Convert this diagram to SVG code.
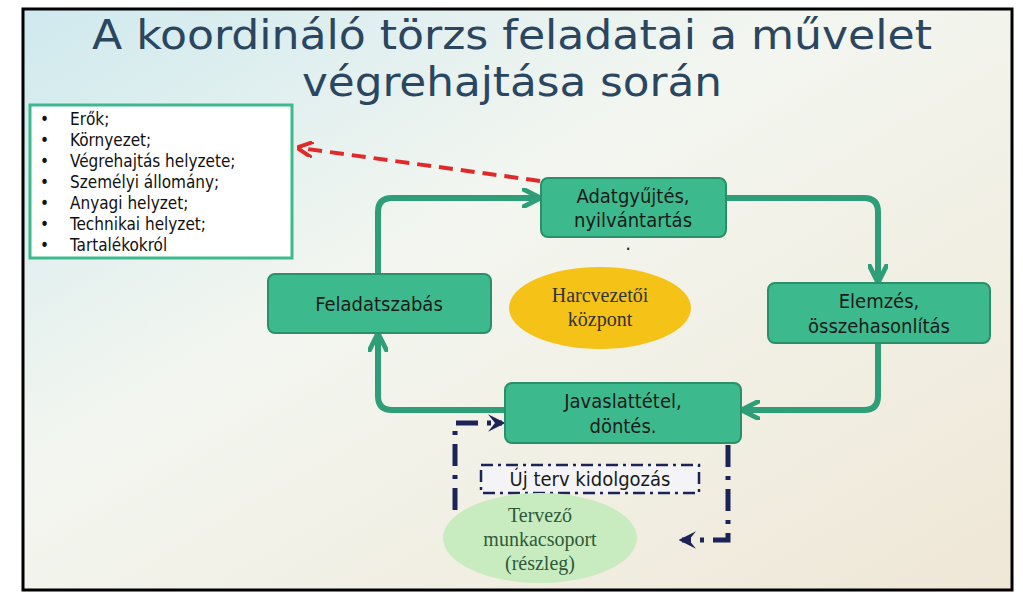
<svg xmlns="http://www.w3.org/2000/svg" width="1023" height="601" viewBox="0 0 1023 601">
<defs>
<linearGradient id="bg" x1="0" y1="0" x2="1" y2="1">
<stop offset="0" stop-color="#cfe9ee"/><stop offset="0.4" stop-color="#f3f6f0"/><stop offset="1" stop-color="#efe7d6"/>
</linearGradient>
<marker id="ga" viewBox="0 0 10 10" refX="8" refY="5" markerWidth="3.2" markerHeight="3.2" orient="auto"><path d="M0,0 L10,5 L0,10" fill="none" stroke="#2e9e78" stroke-width="2.5"/></marker>
<marker id="ra" viewBox="0 0 10 10" refX="8" refY="5" markerWidth="4" markerHeight="4" orient="auto"><path d="M0,0 L10,5 L0,10" fill="none" stroke="#e02a2a" stroke-width="2.5"/></marker>
<marker id="na" viewBox="0 0 10 10" refX="8" refY="5" markerWidth="3.5" markerHeight="3.5" orient="auto"><path d="M0,0 L10,5 L0,10 L4,5Z" fill="#1c2457"/></marker>
</defs>
<style>
.box{fill:#3dba8d;stroke:#2a8f6a;stroke-width:2}
.t{font-family:"DejaVu Sans Condensed","DejaVu Sans",sans-serif;font-size:20px;fill:#1a1a1a;text-anchor:middle}
.s{font-family:"Liberation Serif",serif;font-size:20px;text-anchor:middle}
.g{fill:none;stroke:#2e9e78;stroke-width:6;stroke-linejoin:round}
.n{fill:none;stroke:#1c2457;stroke-width:5;stroke-dasharray:22 9 4 9}
.b{font-family:"DejaVu Sans Condensed","DejaVu Sans",sans-serif;font-size:17px;fill:#111}
.h{font-family:"DejaVu Sans Condensed","DejaVu Sans",sans-serif;font-size:40px;fill:#2b4660;text-anchor:middle}
</style>
<rect x="0" y="0" width="1023" height="601" fill="#fff"/>
<rect x="23" y="9" width="989" height="581" fill="url(#bg)" stroke="#000" stroke-width="3"/>
<text class="h" x="512" y="49" textLength="840" lengthAdjust="spacingAndGlyphs">A koordináló törzs feladatai a művelet</text>
<text class="h" x="512" y="96" textLength="420" lengthAdjust="spacingAndGlyphs">végrehajtása során</text>
<g id="connectors">
<path class="g" d="M378,274 V212 Q378,198 392,198 H537" marker-end="url(#ga)"/>
<path class="g" d="M726,198 H864 Q878,198 878,212 V279" marker-end="url(#ga)"/>
<path class="g" d="M878,343 V396 Q878,410 864,410 H745" marker-end="url(#ga)"/>
<path class="g" d="M505,410 H392 Q378,410 378,396 V337" marker-end="url(#ga)"/>
<path d="M540,181 L300,148" fill="none" stroke="#e02a2a" stroke-width="4" stroke-dasharray="14 8" marker-end="url(#ra)"/>
<path class="n" d="M728,445 V540 H682" marker-end="url(#na)"/>
<path class="n" d="M455,510 V423 H502" marker-end="url(#na)"/>
</g>
<g id="list">
<rect x="30" y="105" width="262" height="153" fill="#fff" stroke="#3dba8d" stroke-width="3"/>
<g class="b">
<text x="40" y="125">•</text><text x="70" y="125">Erők;</text>
<text x="40" y="146">•</text><text x="70" y="146">Környezet;</text>
<text x="40" y="167">•</text><text x="70" y="167">Végrehajtás helyzete;</text>
<text x="40" y="188">•</text><text x="70" y="188">Személyi állomány;</text>
<text x="40" y="209">•</text><text x="70" y="209">Anyagi helyzet;</text>
<text x="40" y="230">•</text><text x="70" y="230">Technikai helyzet;</text>
<text x="40" y="251">•</text><text x="70" y="251">Tartalékokról</text>
</g>
</g>
<g id="adat"><rect class="box" x="541" y="178" width="185" height="59" rx="7"/>
<text class="t" x="633" y="203">Adatgyűjtés,</text><text class="t" x="633" y="227">nyilvántartás</text>
<text class="t" x="628" y="250">.</text></g>
<g id="feladat"><rect class="box" x="268" y="274" width="223" height="59" rx="7"/>
<text class="t" x="379" y="311">Feladatszabás</text></g>
<g id="elemzes"><rect class="box" x="768" y="283" width="222" height="60" rx="7"/>
<text class="t" x="879" y="308">Elemzés,</text><text class="t" x="879" y="333">összehasonlítás</text></g>
<g id="javaslat"><rect class="box" x="505" y="383" width="236" height="60" rx="7"/>
<text class="t" x="623" y="408">Javaslattétel,</text><text class="t" x="623" y="433">döntés.</text></g>
<g id="harc"><ellipse cx="600" cy="308" rx="91" ry="41" fill="#f5c218"/>
<text class="s" x="600" y="302" fill="#333">Harcvezetői</text><text class="s" x="600" y="326" fill="#333">központ</text></g>
<g id="ujterv"><rect x="481" y="465" width="218" height="28" fill="#f4f4f6" stroke="#1c2457" stroke-width="2.5" stroke-dasharray="12 5 3 5"/>
<text class="t" x="590" y="486">Új terv kidolgozás</text></g>
<g id="tervezo"><ellipse cx="540" cy="538" rx="97" ry="45" fill="#c8ecc0"/>
<text class="s" x="540" y="522" fill="#2e5a3a">Tervező</text><text class="s" x="540" y="546" fill="#2e5a3a">munkacsoport</text><text class="s" x="540" y="570" fill="#2e5a3a">(részleg)</text></g>
</svg>
